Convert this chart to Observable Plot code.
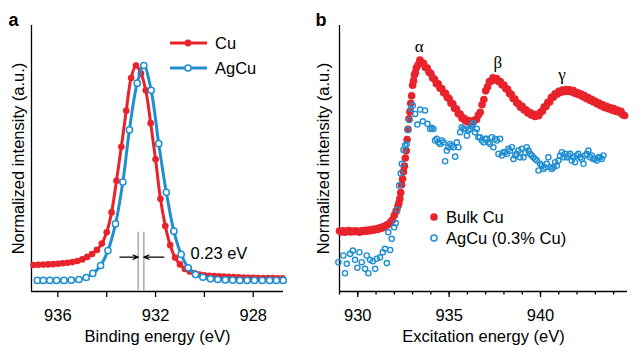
<!DOCTYPE html>
<html><head><meta charset="utf-8">
<script src="https://cdn.jsdelivr.net/npm/d3@7"></script>
<script src="https://cdn.jsdelivr.net/npm/@observablehq/plot@0.6"></script>
<style>
body{margin:0;background:#fff;}
#wrap{position:relative;width:642px;height:352px;display:flex;overflow:hidden;}
#overlay{position:absolute;left:0;top:0;pointer-events:none;}
</style></head><body><div id="wrap"></div>
<script>
// ---------- Panel a : XPS Cu 2p3/2 ----------
const cuE = [937.0,936.8,936.6,936.4,936.2,936.0,935.8,935.6,935.4,935.2,935.0,934.8,934.6,934.4,934.2,934.0,933.8,933.6,933.4,933.2,933.0,932.8,932.6,932.4,932.2,932.0,931.8,931.6,931.4,931.2,931.0,930.8,930.6,930.4,930.2,930.0,929.8,929.6,929.4,929.2,929.0,928.8,928.6,928.4,928.2,928.0,927.8,927.6,927.4,927.2,927.0,926.8];
const cuI = [0.117,0.118,0.119,0.120,0.121,0.123,0.125,0.127,0.130,0.135,0.142,0.153,0.166,0.184,0.212,0.262,0.350,0.490,0.640,0.800,0.945,1.000,0.965,0.890,0.745,0.585,0.410,0.290,0.205,0.150,0.120,0.100,0.088,0.080,0.075,0.072,0.070,0.068,0.067,0.066,0.065,0.064,0.063,0.062,0.061,0.061,0.060,0.060,0.059,0.059,0.058,0.058];
const agE = [936.84,936.60,936.33,936.05,935.75,935.45,935.14,934.84,934.57,934.25,933.95,933.64,933.34,933.07,932.75,932.48,932.18,931.87,931.56,931.25,930.95,930.66,930.36,930.06,929.75,929.45,929.14,928.84,928.55,928.25,927.95,927.63,927.33,927.05,926.77];
const agI = [0.049,0.049,0.049,0.049,0.049,0.050,0.053,0.062,0.080,0.115,0.181,0.299,0.484,0.715,0.922,1.000,0.890,0.654,0.439,0.267,0.164,0.105,0.075,0.063,0.056,0.053,0.051,0.050,0.049,0.049,0.049,0.049,0.049,0.049,0.049];
const xDomainA = [937.08, 926.76];
const yDomainA = [0, 1.177];
const ticksA = [936, 934, 932, 930, 928];
const tickLabelsA = [936, 932, 928];
const peakLines = [{e: 932.71, top: 0.262, dash: "7,2"}, {e: 932.48, top: 0.262, dash: "4,1.5,1.5,1.5"}];
const shiftArrows = [{from: 933.46, to: 932.71, y: 0.152}, {from: 931.66, to: 932.48, y: 0.152}];
const shiftLabel = [{e: 930.57, y: 0.168, text: "0.23 eV"}];

// ---------- Panel b : XAS Cu L3 ----------
const bulkE = [929.0,929.1,929.2,929.3,929.4,929.5,929.6,929.7,929.8,929.9,930.0,930.1,930.2,930.3,930.4,930.5,930.6,930.7,930.8,930.9,931.0,931.1,931.2,931.3,931.4,931.5,931.6,931.7,931.8,931.9,932.0,932.1,932.2,932.25,932.3,932.35,932.4,932.45,932.5,932.55,932.6,932.65,932.7,932.75,932.8,932.85,932.9,932.95,933.0,933.05,933.1,933.15,933.2,933.3,933.4,933.5,933.6,933.7,933.8,933.9,934.0,934.1,934.2,934.3,934.4,934.5,934.6,934.7,934.8,934.9,935.0,935.1,935.2,935.3,935.4,935.5,935.6,935.7,935.8,935.9,936.0,936.1,936.2,936.3,936.4,936.5,936.6,936.7,936.8,936.9,937.0,937.1,937.2,937.3,937.4,937.5,937.6,937.7,937.8,937.9,938.0,938.1,938.2,938.3,938.4,938.5,938.6,938.7,938.8,938.9,939.0,939.1,939.2,939.3,939.4,939.5,939.6,939.7,939.8,939.9,940.0,940.1,940.2,940.3,940.4,940.5,940.6,940.7,940.8,940.9,941.0,941.1,941.2,941.3,941.4,941.5,941.6,941.7,941.8,941.9,942.0,942.1,942.2,942.3,942.4,942.5,942.6,942.7,942.8,942.9,943.0,943.1,943.2,943.3,943.4,943.5,943.6,943.7,943.8,943.9,944.0,944.1,944.2,944.3,944.4,944.5,944.6];
const bulkI = [0.262,0.258,0.263,0.257,0.261,0.264,0.258,0.262,0.259,0.263,0.260,0.257,0.263,0.260,0.265,0.261,0.266,0.263,0.269,0.266,0.272,0.269,0.276,0.274,0.281,0.280,0.289,0.291,0.302,0.310,0.330,0.348,0.370,0.383,0.402,0.428,0.462,0.488,0.519,0.543,0.578,0.610,0.658,0.702,0.748,0.778,0.815,0.848,0.893,0.912,0.938,0.947,0.968,0.982,1.002,0.992,0.988,0.970,0.968,0.950,0.944,0.925,0.919,0.900,0.899,0.880,0.879,0.861,0.858,0.840,0.836,0.815,0.813,0.793,0.790,0.770,0.768,0.750,0.751,0.738,0.741,0.732,0.738,0.733,0.743,0.745,0.764,0.776,0.809,0.831,0.869,0.886,0.909,0.911,0.925,0.918,0.922,0.909,0.909,0.894,0.894,0.878,0.876,0.858,0.854,0.836,0.834,0.816,0.814,0.798,0.802,0.786,0.787,0.773,0.776,0.764,0.768,0.758,0.766,0.761,0.776,0.781,0.799,0.801,0.819,0.821,0.841,0.841,0.856,0.854,0.867,0.862,0.872,0.866,0.875,0.866,0.873,0.864,0.870,0.858,0.862,0.852,0.856,0.844,0.849,0.836,0.840,0.828,0.832,0.821,0.824,0.812,0.816,0.804,0.809,0.797,0.802,0.792,0.797,0.786,0.792,0.781,0.786,0.776,0.780,0.766,0.762];
const agBE = [928.94,929.21,929.30,929.40,929.58,929.73,929.85,929.98,930.09,930.22,930.40,930.49,930.58,930.67,930.82,930.95,931.04,931.22,931.37,931.49,931.59,931.67,931.77,931.86,931.99,932.08,932.17,932.26,932.35,932.41,932.50,932.59,932.68,932.74,932.83,932.90,933.01,933.14,933.26,933.41,933.56,933.68,933.81,933.96,934.05,934.14,934.23,934.32,934.41,934.50,934.60,934.69,934.78,934.87,934.96,935.05,935.14,935.23,935.33,935.42,935.51,935.60,935.69,935.78,935.87,935.97,936.06,936.15,936.24,936.33,936.42,936.51,936.60,936.69,936.79,936.88,936.97,937.06,937.15,937.24,937.33,937.42,937.51,937.61,937.70,937.79,937.88,937.97,938.06,938.16,938.24,938.33,938.43,938.52,938.61,938.70,938.79,938.88,938.98,939.07,939.16,939.25,939.34,939.43,939.52,939.61,939.70,939.80,939.89,939.98,940.07,940.16,940.25,940.34,940.43,940.53,940.62,940.71,940.80,940.89,940.98,941.07,941.17,941.26,941.35,941.44,941.53,941.62,941.71,941.80,941.89,941.98,942.07,942.17,942.26,942.35,942.44,942.53,942.62,942.71,942.80,942.89,942.98,943.08,943.17,943.26,943.35,943.44];
const agBI = [0.127,0.156,0.079,0.120,0.163,0.177,0.137,0.103,0.170,0.127,0.098,0.156,0.079,0.137,0.131,0.098,0.142,0.148,0.170,0.185,0.123,0.257,0.180,0.228,0.278,0.296,0.354,0.459,0.512,0.553,0.613,0.632,0.639,0.700,0.743,0.791,0.805,0.769,0.723,0.788,0.737,0.784,0.726,0.704,0.709,0.704,0.654,0.661,0.646,0.639,0.654,0.646,0.564,0.610,0.625,0.639,0.632,0.625,0.584,0.646,0.625,0.690,0.711,0.704,0.704,0.675,0.697,0.704,0.719,0.729,0.690,0.704,0.668,0.668,0.654,0.646,0.661,0.661,0.646,0.639,0.668,0.625,0.661,0.654,0.596,0.661,0.589,0.603,0.603,0.596,0.618,0.610,0.625,0.574,0.589,0.596,0.610,0.581,0.618,0.581,0.603,0.625,0.610,0.596,0.589,0.581,0.574,0.567,0.524,0.553,0.545,0.531,0.538,0.553,0.581,0.538,0.531,0.538,0.560,0.545,0.567,0.589,0.603,0.581,0.596,0.581,0.589,0.596,0.567,0.581,0.560,0.589,0.596,0.581,0.574,0.553,0.589,0.596,0.610,0.581,0.589,0.574,0.574,0.567,0.581,0.581,0.574,0.589];
const xDomainB = [929.0, 944.76];
const yDomainB = [0, 1.152];
const minorTicksB = d3.range(929, 945, 1);
const majorTicksB = [930, 935, 940];
const greek = [{e: 933.36, y: 1.063, t: "α"}, {e: 937.66, y: 0.99, t: "β"}, {e: 941.18, y: 0.94, t: "γ"}];

const RED = "#e8232b", BLUE = "#1f8fd2";
const FONT = "'Liberation Sans', Arial, Helvetica, sans-serif";
const FS = 16.5;

const cu = cuE.map((e, i) => ({e, v: cuI[i]}));
const ag = agE.map((e, i) => ({e, v: agI[i]}));
const bulk = bulkE.map((e, i) => ({e, v: bulkI[i]}));
const agB = agBE.map((e, i) => ({e, v: agBI[i]}));

const style = {fontFamily: FONT, fontSize: FS + "px", background: "white", overflow: "visible", color: "black"};

const plotA = Plot.plot({
  width: 300, height: 352, marginLeft: 31, marginRight: 17, marginTop: 25, marginBottom: 61,
  style,
  x: {domain: xDomainA, label: null},
  y: {domain: yDomainA, axis: null, label: null},
  marks: [
    Plot.ruleY([yDomainA[0]], {stroke: "black", strokeWidth: 1.3}),
    Plot.ruleX([xDomainA[0]], {stroke: "black", strokeWidth: 1.3}),
    Plot.axisX({ticks: ticksA, tickSize: 6, tickPadding: 12, strokeWidth: 1.3, label: null,
      tickFormat: d => tickLabelsA.includes(d) ? String(d) : ""}),
    Plot.ruleX(peakLines, {x: "e", y1: 0, y2: "top", stroke: "#b0b0b0", strokeWidth: 1.6, strokeDasharray: d => d.dash}),
    Plot.arrow(shiftArrows, {x1: "from", x2: "to", y1: "y", y2: "y", stroke: "black", strokeWidth: 1.2, headLength: 7, headAngle: 45}),
    Plot.line(cu, {x: "e", y: "v", stroke: RED, strokeWidth: 3, curve: "catmull-rom"}),
    Plot.dot(cu, {x: "e", y: "v", r: 3.3, fill: RED}),
    Plot.line(ag, {x: "e", y: "v", stroke: BLUE, strokeWidth: 3, curve: "catmull-rom"}),
    Plot.dot(ag, {x: "e", y: "v", r: 3.1, stroke: BLUE, strokeWidth: 1.5, fill: "white"}),
    Plot.text(shiftLabel, {x: "e", y: "y", text: "text", textAnchor: "start", fontSize: FS}),
    Plot.text(["Binding energy (eV)"], {frameAnchor: "bottom", dy: 50, text: d => d, fontSize: FS}),
    Plot.text(["Normalized intensity (a.u.)"], {frameAnchor: "left", dx: -12.5, rotate: -90, textAnchor: "middle", text: d => d, fontSize: FS}),
    Plot.text(["a"], {frameAnchor: "top-left", dx: -23, dy: 0, lineAnchor: "bottom", textAnchor: "start", text: d => d, fontSize: 18, fontWeight: "bold"})
  ]
});

const plotB = Plot.plot({
  width: 342, height: 352, marginLeft: 39, marginRight: 15, marginTop: 25, marginBottom: 61,
  style,
  x: {domain: xDomainB, label: null},
  y: {domain: yDomainB, axis: null, label: null},
  marks: [
    Plot.ruleY([yDomainB[0]], {stroke: "black", strokeWidth: 1.3}),
    Plot.ruleX([xDomainB[0]], {stroke: "black", strokeWidth: 1.3}),
    Plot.axisX({ticks: minorTicksB, tickSize: 3.5, strokeWidth: 1.3, label: null, tickFormat: () => ""}),
    Plot.axisX({ticks: majorTicksB, tickSize: 6, tickPadding: 12, strokeWidth: 1.3, label: null, tickFormat: d => String(d)}),
    Plot.dot(bulk, {x: "e", y: "v", r: 3.8, fill: RED}),
    Plot.dot(agB, {x: "e", y: "v", r: 2.6, stroke: BLUE, strokeWidth: 1.4, fill: "none"}),
    Plot.text(greek, {x: "e", y: "y", text: "t", fontFamily: "'Liberation Serif', 'DejaVu Serif', serif", fontSize: 17}),
    Plot.text(["Excitation energy (eV)"], {frameAnchor: "bottom", dy: 50, text: d => d, fontSize: FS}),
    Plot.text(["Normalized intensity (a.u.)"], {frameAnchor: "left", dx: -16, rotate: -90, textAnchor: "middle", text: d => d, fontSize: FS}),
    Plot.text(["b"], {frameAnchor: "top-left", dx: -24, dy: 0, lineAnchor: "bottom", textAnchor: "start", text: d => d, fontSize: 18, fontWeight: "bold"})
  ]
});

const wrap = document.getElementById("wrap");
wrap.appendChild(plotA);
wrap.appendChild(plotB);

// Legends (overlay)
const legA = [{label: "Cu", color: RED, filled: true, y: 43}, {label: "AgCu", color: BLUE, filled: false, y: 68}];
const legB = [{label: "Bulk Cu", color: RED, filled: true, y: 217}, {label: "AgCu (0.3% Cu)", color: BLUE, filled: false, y: 238}];
const svg = d3.select(wrap).append("svg").attr("id", "overlay").attr("width", 642).attr("height", 352)
  .style("font-family", FONT).style("font-size", FS + "px");
const ga = svg.selectAll("g.la").data(legA).join("g").attr("class", "la").attr("transform", d => `translate(0,${d.y})`);
ga.append("line").attr("x1", 170).attr("x2", 207).attr("stroke", d => d.color).attr("stroke-width", 3);
ga.append("circle").attr("cx", 188).attr("r", d => d.filled ? 3.4 : 3.1)
  .attr("fill", d => d.filled ? d.color : "white").attr("stroke", d => d.filled ? "none" : d.color).attr("stroke-width", 1.5);
ga.append("text").attr("x", 215).attr("y", 6).text(d => d.label);
const gb = svg.selectAll("g.lb").data(legB).join("g").attr("class", "lb").attr("transform", d => `translate(0,${d.y})`);
gb.append("circle").attr("cx", 434).attr("r", d => d.filled ? 3.8 : 3.0)
  .attr("fill", d => d.filled ? d.color : "none").attr("stroke", d => d.filled ? "none" : d.color).attr("stroke-width", 1.5);
gb.append("text").attr("x", 446).attr("y", 6).text(d => d.label);
</script>
</body></html>
